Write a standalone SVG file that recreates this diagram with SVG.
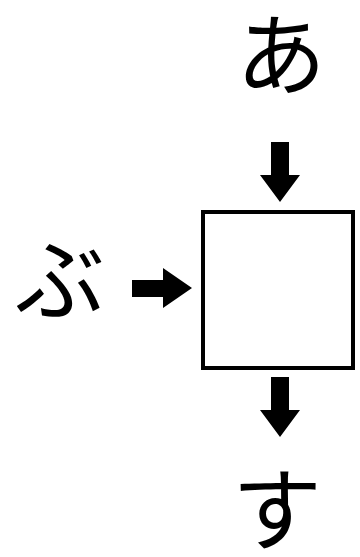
<svg xmlns="http://www.w3.org/2000/svg" width="360" height="557" viewBox="0 0 360 557">
<style>
.lbl{font-family:"Noto Sans CJK JP","Noto Sans CJK SC",sans-serif;font-size:90px;fill:#000;text-anchor:middle}
.box{fill:#fff;stroke:#000;stroke-width:4}
.arr{fill:#000}
</style>
<rect width="360" height="557" fill="#fff"/>
<g id="node-a"><text class="lbl" x="281" y="88">あ</text></g>
<g id="node-bu"><text class="lbl" x="60" y="313">ぶ</text></g>
<g id="node-su"><text class="lbl" x="277" y="543">す</text></g>
<g id="node-box"><rect class="box" x="203" y="212" width="150" height="156"/></g>
<g id="connectors">
<polygon class="arr" points="271,142 289,142 289,175 300,175 280,202 260,175 271,175"/>
<polygon class="arr" points="132,280 163,280 163,268 192,288 163,308 163,297 132,297"/>
<polygon class="arr" points="271,377 289,377 289,410 300,410 280,437 260,410 271,410"/>
</g>
</svg>
